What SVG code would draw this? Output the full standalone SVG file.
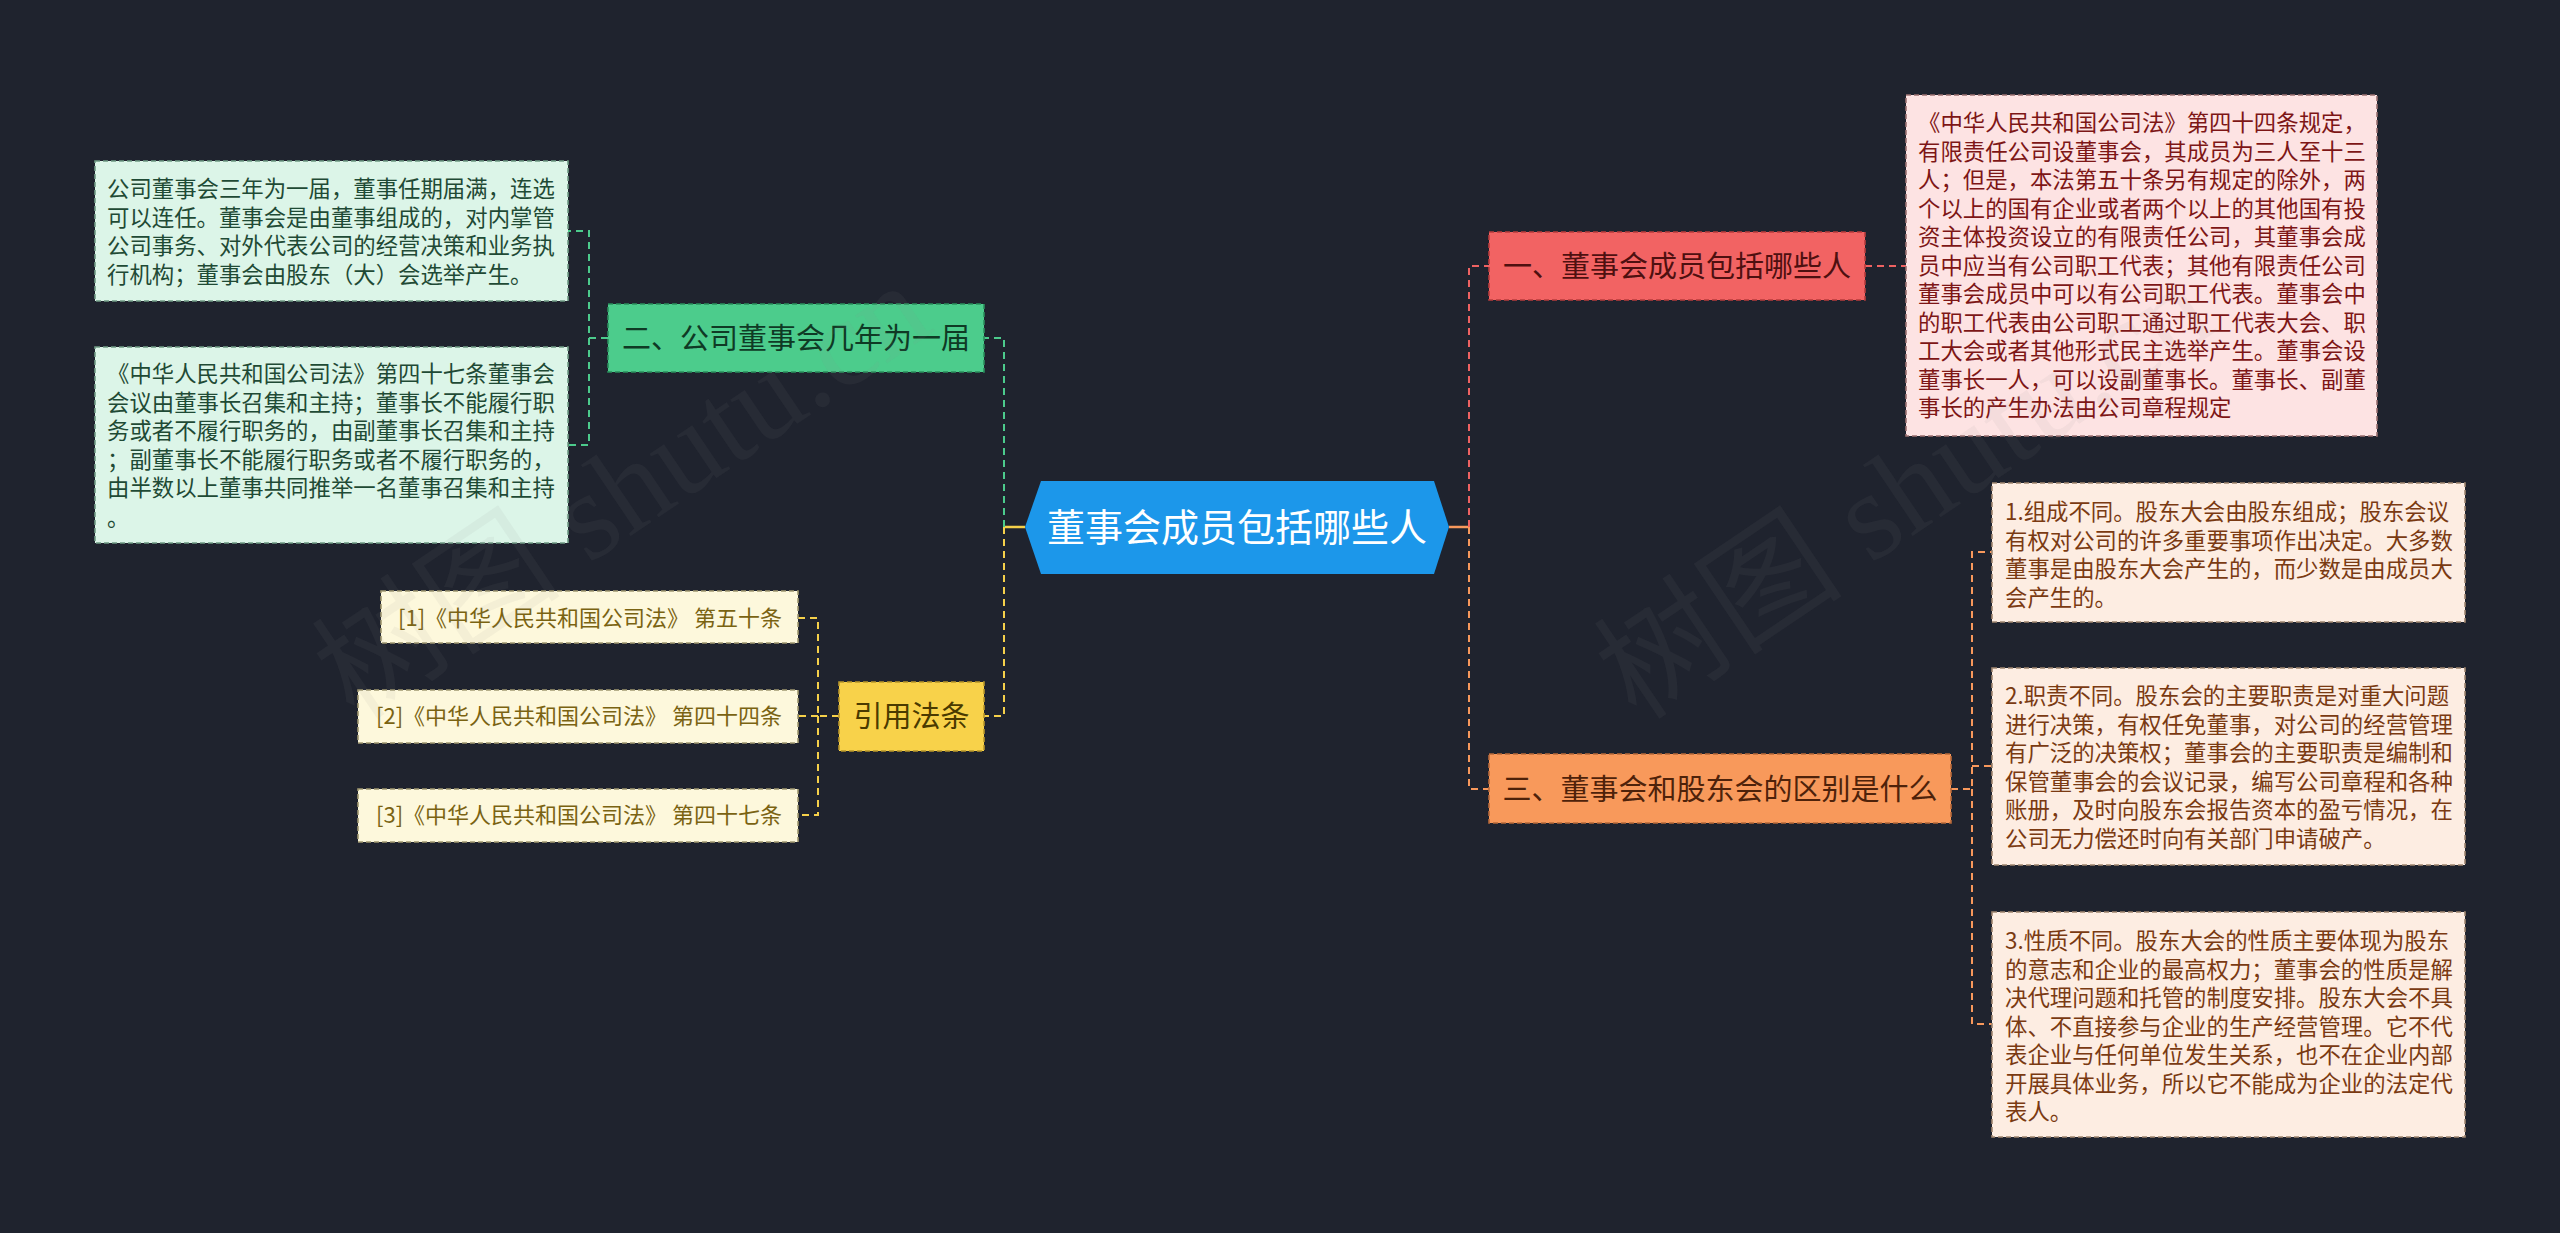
<svg xmlns="http://www.w3.org/2000/svg" width="2560" height="1233" viewBox="0 0 2560 1233">
<style>
text{font-family:"Noto Sans CJK SC","Noto Sans",sans-serif}
.c{fill:none;stroke-width:2;stroke-dasharray:7 5}
.s{fill:none;stroke-width:2.5}
.cr{stroke:#ee6262}.co{stroke:#f7985c}.cg{stroke:#4ccb8c}.cy{stroke:#f5d04a}
.nb{stroke-width:1.6;stroke-dasharray:5 3}
.mt{font-size:29px;text-anchor:middle}
.lt{font-size:22.4px}
.ct{font-size:22px;text-anchor:middle;fill:#7a6312}
.wm{font-family:"Liberation Serif","Noto Sans CJK SC",serif;font-size:125px;fill:#8a8a8a;fill-opacity:0.08}
</style>
<rect width="2560" height="1233" fill="#1f232e"/>
<g id="connectors">
<path class="s cy" d="M1025 527H1004"/>
<path class="s co" d="M1449 527H1469"/>
<path class="c cg" d="M1004 527V338H984"/>
<path class="c cy" d="M1004 527V716H984"/>
<path class="c cr" d="M1469 527V266H1489"/>
<path class="c co" d="M1469 527V789H1489"/>
<path class="c cg" d="M608 338H589V231H568M589 338V445H568"/>
<path class="c cy" d="M839 716H818V618H798M818 716H798M818 716V815H798"/>
<path class="c cr" d="M1865 266H1906"/>
<path class="c co" d="M1951 789H1972V552H1992M1972 766H1992M1972 789V1024H1992"/>
</g>
<g id="center">
<polygon points="1025,527 1041,481 1434,481 1449,527 1434,574 1041,574" fill="#1c97ea"/>
<text x="1237" y="541" font-size="38" text-anchor="middle" fill="#ffffff">董事会成员包括哪些人</text>
</g>
<g id="n1">
<rect class="nb" x="1489" y="232" width="376" height="68" fill="#f26363" stroke="#b83c3c"/>
<text class="mt" x="1677" y="276.5" fill="#4e1010">一、董事会成员包括哪些人</text>
</g>
<g id="n1-leaf">
<rect class="nb" x="1906" y="95" width="471" height="341" fill="#fde3e3" stroke="#9a7070"/>
<text class="lt" fill="#7d1616">
<tspan x="1918" y="131">《中华人民共和国公司法》第四十四条规定，</tspan>
<tspan x="1918" y="159.5">有限责任公司设董事会，其成员为三人至十三</tspan>
<tspan x="1918" y="188">人；但是，本法第五十条另有规定的除外，两</tspan>
<tspan x="1918" y="216.5">个以上的国有企业或者两个以上的其他国有投</tspan>
<tspan x="1918" y="245">资主体投资设立的有限责任公司，其董事会成</tspan>
<tspan x="1918" y="273.5">员中应当有公司职工代表；其他有限责任公司</tspan>
<tspan x="1918" y="302">董事会成员中可以有公司职工代表。董事会中</tspan>
<tspan x="1918" y="330.5">的职工代表由公司职工通过职工代表大会、职</tspan>
<tspan x="1918" y="359">工大会或者其他形式民主选举产生。董事会设</tspan>
<tspan x="1918" y="387.5">董事长一人，可以设副董事长。董事长、副董</tspan>
<tspan x="1918" y="416">事长的产生办法由公司章程规定</tspan>
</text>
</g>
<g id="n2">
<rect class="nb" x="608" y="304" width="376" height="68" fill="#4ccc8c" stroke="#2a8e5c"/>
<text class="mt" x="796" y="348.5" fill="#0f3a25">二、公司董事会几年为一届</text>
</g>
<g id="n2-leaf1">
<rect class="nb" x="95" y="161" width="473" height="140" fill="#dcf5e8" stroke="#6f9a84"/>
<text class="lt" fill="#1f4a35">
<tspan x="107" y="197">公司董事会三年为一届，董事任期届满，连选</tspan>
<tspan x="107" y="225.5">可以连任。董事会是由董事组成的，对内掌管</tspan>
<tspan x="107" y="254">公司事务、对外代表公司的经营决策和业务执</tspan>
<tspan x="107" y="282.5">行机构；董事会由股东（大）会选举产生。</tspan>
</text>
</g>
<g id="n2-leaf2">
<rect class="nb" x="95" y="347" width="473" height="196" fill="#dcf5e8" stroke="#6f9a84"/>
<text class="lt" fill="#1f4a35">
<tspan x="107" y="382">《中华人民共和国公司法》第四十七条董事会</tspan>
<tspan x="107" y="410.5">会议由董事长召集和主持；董事长不能履行职</tspan>
<tspan x="107" y="439">务或者不履行职务的，由副董事长召集和主持</tspan>
<tspan x="107" y="467.5">；副董事长不能履行职务或者不履行职务的，</tspan>
<tspan x="107" y="496">由半数以上董事共同推举一名董事召集和主持</tspan>
<tspan x="107" y="526">。</tspan>
</text>
</g>
<g id="n4">
<rect class="nb" x="839" y="682" width="145" height="69" fill="#f8d24a" stroke="#b8962a"/>
<text class="mt" x="911.5" y="727" fill="#4a3a00">引用法条</text>
</g>
<g id="cite1">
<rect class="nb" x="381" y="591" width="417" height="52" fill="#fdf8dc" stroke="#a09870"/>
<text class="ct" x="590" y="626">[1]《中华人民共和国公司法》 第五十条</text>
</g>
<g id="cite2">
<rect class="nb" x="358" y="690" width="440" height="53" fill="#fdf8dc" stroke="#a09870"/>
<text class="ct" x="579" y="724">[2]《中华人民共和国公司法》 第四十四条</text>
</g>
<g id="cite3">
<rect class="nb" x="358" y="789" width="440" height="53" fill="#fdf8dc" stroke="#a09870"/>
<text class="ct" x="579" y="823">[3]《中华人民共和国公司法》 第四十七条</text>
</g>
<g id="n3">
<rect class="nb" x="1489" y="754" width="462" height="69" fill="#f8995b" stroke="#b8693a"/>
<text class="mt" x="1720" y="799.5" fill="#4e220a">三、董事会和股东会的区别是什么</text>
</g>
<g id="n3-leaf1">
<rect class="nb" x="1992" y="483" width="473" height="139" fill="#fdede2" stroke="#a08670"/>
<text class="lt" fill="#7a3a12">
<tspan x="2005" y="520">1.组成不同。股东大会由股东组成；股东会议</tspan>
<tspan x="2005" y="548.5">有权对公司的许多重要事项作出决定。大多数</tspan>
<tspan x="2005" y="577">董事是由股东大会产生的，而少数是由成员大</tspan>
<tspan x="2005" y="605.5">会产生的。</tspan>
</text>
</g>
<g id="n3-leaf2">
<rect class="nb" x="1992" y="668" width="473" height="197" fill="#fdede2" stroke="#a08670"/>
<text class="lt" fill="#7a3a12">
<tspan x="2005" y="704">2.职责不同。股东会的主要职责是对重大问题</tspan>
<tspan x="2005" y="732.5">进行决策，有权任免董事，对公司的经营管理</tspan>
<tspan x="2005" y="761">有广泛的决策权；董事会的主要职责是编制和</tspan>
<tspan x="2005" y="789.5">保管董事会的会议记录，编写公司章程和各种</tspan>
<tspan x="2005" y="818">账册，及时向股东会报告资本的盈亏情况，在</tspan>
<tspan x="2005" y="846.5">公司无力偿还时向有关部门申请破产。</tspan>
</text>
</g>
<g id="n3-leaf3">
<rect class="nb" x="1992" y="912" width="473" height="225" fill="#fdede2" stroke="#a08670"/>
<text class="lt" fill="#7a3a12">
<tspan x="2005" y="949">3.性质不同。股东大会的性质主要体现为股东</tspan>
<tspan x="2005" y="977.5">的意志和企业的最高权力；董事会的性质是解</tspan>
<tspan x="2005" y="1006">决代理问题和托管的制度安排。股东大会不具</tspan>
<tspan x="2005" y="1034.5">体、不直接参与企业的生产经营管理。它不代</tspan>
<tspan x="2005" y="1063">表企业与任何单位发生关系，也不在企业内部</tspan>
<tspan x="2005" y="1091.5">开展具体业务，所以它不能成为企业的法定代</tspan>
<tspan x="2005" y="1120">表人。</tspan>
</text>
</g>
<g id="watermark">
<text class="wm" transform="translate(355 722) rotate(-34)">树图 shutu.cn</text>
<text class="wm" transform="translate(1637 722) rotate(-34)">树图 shutu.cn</text>
</g>
</svg>
